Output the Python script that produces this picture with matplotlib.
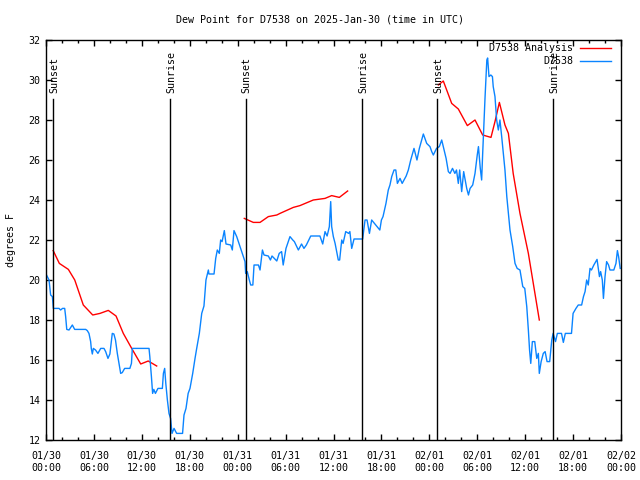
import matplotlib
matplotlib.use("Agg")
import matplotlib.pyplot as plt
from matplotlib.ticker import FixedLocator, MultipleLocator

plt.rcParams['font.family'] = ['DejaVu Sans Mono']
plt.rcParams['font.size'] = 7.2

# hours since 2025-01-30 00:00 UTC
analysis_h1 = [0.9, 1.67, 2.8, 3.6, 4.67, 5.85, 6.76, 7.8, 8.77, 9.68, 10.73, 11.86, 12.8, 13.86]
analysis_v1 = [21.47, 20.83, 20.53, 20.0, 18.75, 18.25, 18.33, 18.48, 18.2, 17.33, 16.58, 15.8, 15.95, 15.7]
analysis_h2 = [24.83, 25.96, 26.8, 27.84, 28.9, 29.3, 30.97, 31.8, 33.47, 34.94, 35.77, 36.73, 37.77]
analysis_v2 = [23.08, 22.88, 22.88, 23.17, 23.25, 23.33, 23.63, 23.72, 24.0, 24.08, 24.22, 24.13, 24.45]
analysis_h3 = [49.13, 49.75, 50.8, 51.63, 52.76, 53.72, 54.68, 55.72, 56.22, 56.77, 57.47,
               57.9, 58.5, 59.35, 60.4, 61.77]
analysis_v3 = [29.75, 29.95, 28.83, 28.55, 27.72, 28.0, 27.25, 27.13, 27.92, 28.88, 27.75,
               27.33, 25.33, 23.33, 21.33, 18.0]

obs_h = [0.0, 0.38, 0.58, 0.8, 0.92, 1.63, 1.83, 2.07, 2.34, 2.46, 2.6, 2.88, 3.3, 3.59, 4.97,
         5.17, 5.38, 5.59, 5.67, 5.8, 5.93, 6.2, 6.5, 6.85, 7.26, 7.47, 7.76, 8.0, 8.3, 8.5,
         8.7, 8.93, 9.14, 9.35, 9.55, 9.85, 10.5, 10.7, 10.81, 12.9, 13.0, 13.2, 13.35, 13.5,
         13.7, 14.02, 14.57, 14.7, 14.86, 15.0, 15.2, 15.4, 15.6, 15.78, 16.03, 16.36, 17.1,
         17.28, 17.53, 17.8, 18.03, 18.37, 18.66, 18.87, 19.2, 19.5, 19.78, 20.03, 20.33,
         20.4, 21.04, 21.25, 21.45, 21.7, 21.87, 22.05, 22.33, 22.54, 23.13, 23.33, 23.54,
         23.88, 24.3, 24.72, 24.92, 25.0, 25.2, 25.46, 25.63, 25.9, 26.05, 26.6, 26.8, 27.1,
         27.3, 27.84, 28.1, 28.3, 28.9, 29.2, 29.5, 29.7, 30.05, 30.55, 30.9, 31.1, 31.6,
         32.0, 32.3, 32.6, 33.15, 34.3, 34.65, 34.94, 35.2, 35.48, 35.65, 35.77, 35.98, 36.2,
         36.6, 36.77, 37.03, 37.2, 37.53, 37.9, 38.05, 38.28, 38.57, 39.65, 39.95, 40.2,
         40.5, 40.78, 41.8, 42.0, 42.2, 42.57, 42.86, 43.07, 43.29, 43.58, 43.8, 44.0, 44.33,
         44.6, 45.1, 45.37, 45.67, 46.08, 46.45, 46.75, 47.05, 47.25, 47.67, 48.08, 48.3,
         48.5, 48.9, 49.25, 49.55, 49.7, 50.1, 50.38, 50.6, 50.9, 51.2, 51.4, 51.63, 51.8,
         52.05, 52.3, 52.68, 52.9, 53.1, 53.43, 53.72, 54.0, 54.15, 54.38, 54.55, 54.68,
         54.97, 55.2, 55.3, 55.47, 55.7, 55.9, 56.0, 56.22, 56.43, 56.64, 56.84, 57.06,
         57.47, 57.7, 58.1, 58.44, 58.73, 59.0, 59.35, 59.7, 59.95, 60.2, 60.4, 60.55, 60.7,
         60.9, 61.2, 61.45, 61.65, 61.77, 62.0, 62.27, 62.5, 62.74, 63.07, 63.33, 63.5, 63.8,
         64.03, 64.55, 64.78, 65.03, 65.8, 66.0, 66.36, 66.65, 67.07, 67.3, 67.5, 67.7, 67.9,
         68.12, 68.3, 68.6, 68.85, 69.0, 69.3, 69.45, 69.66, 69.8, 70.0, 70.2, 70.44, 70.62,
         71.1, 71.37, 71.55, 71.7, 71.9]
obs_v = [20.3, 20.0, 19.25, 19.17, 18.58, 18.58, 18.5, 18.58, 18.58, 18.17, 17.53, 17.5, 17.75,
         17.53, 17.53, 17.47, 17.33, 16.92, 16.58, 16.3, 16.58, 16.5, 16.33, 16.58, 16.58,
         16.42, 16.08, 16.3, 17.33, 17.3, 17.0, 16.33, 15.83, 15.33, 15.37, 15.58, 15.58,
         15.83, 16.58, 16.58, 16.17, 15.17, 14.33, 14.53, 14.33, 14.58, 14.58, 15.33, 15.58,
         14.83, 14.0, 13.33, 13.08, 12.33, 12.58, 12.33, 12.33, 13.25, 13.58, 14.33, 14.58,
         15.33, 16.08, 16.58, 17.33, 18.33, 18.7, 20.0, 20.5, 20.3, 20.3, 21.08, 21.5, 21.33,
         22.0, 21.92, 22.47, 21.8, 21.75, 21.5, 22.47, 22.17, 21.67, 21.17, 20.92, 20.33,
         20.42, 20.0, 19.75, 19.75, 20.75, 20.75, 20.5, 21.5, 21.25, 21.2, 21.0, 21.2, 20.95,
         21.33, 21.42, 20.75, 21.58, 22.17, 22.0, 21.92, 21.5, 21.8, 21.58, 21.75, 22.2, 22.2,
         21.8, 22.42, 22.2, 22.67, 23.92, 22.67, 22.17, 21.83, 21.0, 21.0, 22.0, 21.83, 22.42,
         22.33, 22.42, 21.58, 22.05, 22.05, 23.0, 23.0, 22.33, 23.0, 22.5, 23.0, 23.17, 23.83,
         24.5, 24.75, 25.17, 25.5, 25.5, 24.83, 25.08, 24.83, 25.2, 25.5, 26.0, 26.58, 26.0,
         26.58, 27.0, 27.3, 26.83, 26.67, 26.42, 26.25, 26.58, 26.67, 27.0, 26.75, 26.08,
         25.42, 25.33, 25.58, 25.33, 25.5, 24.83, 25.5, 24.42, 25.42, 24.58, 24.25, 24.58,
         24.75, 25.33, 26.25, 26.67, 25.58, 25.0, 26.33, 29.08, 31.0, 31.1, 30.17, 30.25,
         30.17, 29.67, 29.17, 28.0, 27.5, 28.0, 27.17, 25.5, 24.17, 22.5, 21.67, 20.83, 20.58,
         20.5, 19.67, 19.58, 18.67, 17.5, 16.5, 15.83, 16.92, 16.92, 16.08, 16.33, 15.33,
         15.92, 16.33, 16.42, 15.92, 15.92, 17.0, 17.33, 16.92, 17.33, 17.33, 16.88, 17.33,
         17.33, 18.33, 18.58, 18.75, 18.75, 19.17, 19.42, 20.0, 19.75, 20.58, 20.5, 20.75,
         20.92, 21.03, 20.17, 20.42, 20.0, 19.08, 20.17, 20.92, 20.75, 20.5, 20.5, 20.83,
         21.47, 21.17, 20.58]

sun_h = [0.92, 15.57, 25.0, 39.6, 49.0, 63.5]
sun_labels = ["Sunset", "Sunrise", "Sunset", "Sunrise", "Sunset", "Sunrise"]

tick_h = [0, 6, 12, 18, 24, 30, 36, 42, 48, 54, 60, 66, 72]
tick_labels = ["01/30\n00:00", "01/30\n06:00", "01/30\n12:00", "01/30\n18:00",
               "01/31\n00:00", "01/31\n06:00", "01/31\n12:00", "01/31\n18:00",
               "02/01\n00:00", "02/01\n06:00", "02/01\n12:00", "02/01\n18:00",
               "02/02\n00:00"]

fig = plt.figure(figsize=(6.4, 4.8), dpi=100)
ax = fig.add_axes([46 / 640, 40 / 480, 575 / 640, 400 / 480])

ln1 = ax.plot(analysis_h1, analysis_v1, color="#ff0000", lw=1)
ax.plot(analysis_h2, analysis_v2, color="#ff0000", lw=1)
ax.plot(analysis_h3, analysis_v3, color="#ff0000", lw=1)
ln2 = ax.plot(obs_h, obs_v, color="#0a84ff", lw=1)

for h, lab in zip(sun_h, sun_labels):
    ax.plot([h, h], [12, 29.05], color="black", lw=1)
    ax.text(h + 0.15, 29.35, lab, rotation=90, ha="center", va="bottom")

ax.set_xlim(0, 72)
ax.set_ylim(12, 32)
ax.xaxis.set_major_locator(FixedLocator(tick_h))
ax.set_xticklabels(tick_labels)
ax.xaxis.set_minor_locator(MultipleLocator(2))
ax.yaxis.set_major_locator(MultipleLocator(2))
ax.tick_params(which="both", direction="in", top=True, right=True, width=1)
ax.tick_params(which="major", length=4.5, pad=4)
ax.tick_params(axis="x", which="major", pad=8)
ax.tick_params(which="minor", length=2.3)
for s in ax.spines.values():
    s.set_linewidth(1)

ax.set_ylabel("degrees F", labelpad=9)
fig.text(0.5, 1 - 19 / 480, "Dew Point for D7538 on 2025-Jan-30 (time in UTC)",
         ha="center", va="center")

fig.legend(ln1 + ln2, ["D7538 Analysis", "D7538"], loc="upper right",
           bbox_to_anchor=(611 / 640, 1 - 43 / 480), markerfirst=False, frameon=False,
           borderpad=0, borderaxespad=0, handlelength=3.1, handletextpad=0.7,
           labelspacing=0.35)

fig.savefig("out.png", dpi=100)
